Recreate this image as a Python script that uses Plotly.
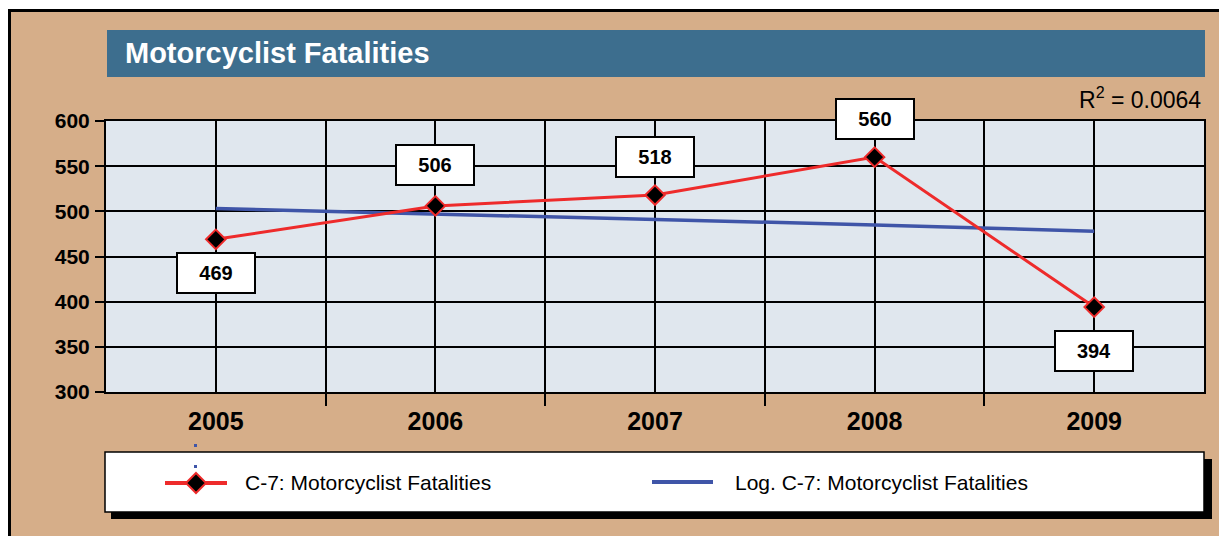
import plotly.graph_objects as go

# data
years = [2005, 2006, 2007, 2008, 2009]
fatalities = [469, 506, 518, 560, 394]
log_trend = [503, 497, 491, 485, 478]
r_squared = "0.0064"

# styling
W, H = 1219, 536
PLOT_L, PLOT_R, PLOT_T, PLOT_B = 106, 1204, 121, 392
TAN = "#D6AE89"
BAR_BLUE = "#3D6E8E"
PLOT_BG = "#E0E7EE"
RED = "#EE2B2B"
BLUE = "#3F55A8"
FONT = "Liberation Sans, Arial, sans-serif"
label_shift = [-34, 41, 38, 38, -44]  # label box offset (px) from each marker


def px_x(x):
    return (x - PLOT_L) / (PLOT_R - PLOT_L)


def px_y(y):
    return (PLOT_B - y) / (PLOT_B - PLOT_T)


fig = go.Figure()

fig.add_trace(go.Scatter(
    x=years, y=log_trend, mode="lines",
    name="Log. C-7: Motorcyclist Fatalities",
    line=dict(color=BLUE, width=3.5),
))
fig.add_trace(go.Scatter(
    x=years, y=fatalities, mode="lines+markers",
    name="C-7: Motorcyclist Fatalities",
    line=dict(color=RED, width=3),
    marker=dict(symbol="diamond", size=15, color="black", line=dict(color=RED, width=2)),
))

# value labels in white boxes
for yr, val, dy in zip(years, fatalities, label_shift):
    fig.add_annotation(
        x=yr, y=val, xref="x", yref="y", text=str(val), showarrow=False,
        yshift=dy, width=76, height=38, bgcolor="white",
        bordercolor="black", borderwidth=2, borderpad=0,
        font=dict(family=FONT, size=20, color="black", weight="bold"),
    )

fig.add_annotation(
    x=px_x(1203), y=px_y(98), xref="paper", yref="paper",
    text=f"R<sup>2</sup> = {r_squared}", showarrow=False,
    xanchor="right", yanchor="middle",
    font=dict(family=FONT, size=23, color="black"),
)

shapes = [
    # white margin outside the frame + frame lines
    dict(type="rect", xref="paper", yref="paper", x0=px_x(-5), x1=px_x(8), y0=px_y(H + 5), y1=px_y(-5),
         fillcolor="white", line=dict(width=0), layer="below"),
    dict(type="rect", xref="paper", yref="paper", x0=px_x(-5), x1=px_x(W + 5), y0=px_y(9), y1=px_y(-5),
         fillcolor="white", line=dict(width=0), layer="below"),
    dict(type="path", xref="paper", yref="paper",
         path=f"M {px_x(9.5)},{px_y(H + 5)} L {px_x(9.5)},{px_y(10.5)} L {px_x(W + 5)},{px_y(10.5)}",
         line=dict(color="black", width=3), layer="below"),
    # title bar
    dict(type="rect", xref="paper", yref="paper", x0=px_x(107), x1=px_x(1205), y0=px_y(77), y1=px_y(30),
         fillcolor=BAR_BLUE, line=dict(width=0), layer="below"),
    # legend box with shadow
    dict(type="rect", xref="paper", yref="paper", x0=px_x(111), x1=px_x(1212), y0=px_y(519), y1=px_y(459),
         fillcolor="black", line=dict(width=0), layer="above"),
    dict(type="rect", xref="paper", yref="paper", x0=px_x(105), x1=px_x(1204), y0=px_y(512), y1=px_y(452),
         fillcolor="white", line=dict(color="black", width=1.5), layer="above"),
    dict(type="line", xref="paper", yref="paper", x0=px_x(165), x1=px_x(227), y0=px_y(483), y1=px_y(483),
         line=dict(color=RED, width=4), layer="above"),
    dict(type="path", xref="paper", yref="paper",
         path=(f"M {px_x(196)},{px_y(473)} L {px_x(206)},{px_y(483)} "
               f"L {px_x(196)},{px_y(493)} L {px_x(186)},{px_y(483)} Z"),
         fillcolor="black", line=dict(color=RED, width=2), layer="above"),
    dict(type="line", xref="paper", yref="paper", x0=px_x(652), x1=px_x(713), y0=px_y(482), y1=px_y(482),
         line=dict(color=BLUE, width=4), layer="above"),
    # small stray marks under 2005
    dict(type="rect", xref="paper", yref="paper", x0=px_x(194), x1=px_x(197), y0=px_y(447), y1=px_y(444),
         fillcolor=BLUE, line=dict(width=0), layer="above"),
    dict(type="rect", xref="paper", yref="paper", x0=px_x(194), x1=px_x(197), y0=px_y(468), y1=px_y(465),
         fillcolor=BLUE, line=dict(width=0), layer="above"),
]
fig.update_layout(shapes=shapes)

fig.add_annotation(
    x=px_x(243), y=px_y(482), xref="paper", yref="paper",
    text="C-7: Motorcyclist Fatalities", showarrow=False,
    xanchor="left", yanchor="middle", font=dict(family=FONT, size=21, color="black"),
)
fig.add_annotation(
    x=px_x(733), y=px_y(482), xref="paper", yref="paper",
    text="Log. C-7: Motorcyclist Fatalities", showarrow=False,
    xanchor="left", yanchor="middle", font=dict(family=FONT, size=21, color="black"),
)

half_years = [y + 0.5 for y in years[:-1]]

fig.update_layout(
    width=W, height=H,
    margin=dict(l=PLOT_L, r=W - PLOT_R, t=PLOT_T, b=H - PLOT_B, autoexpand=False),
    paper_bgcolor=TAN,
    plot_bgcolor=PLOT_BG,
    showlegend=False,
    title=dict(
        text="Motorcyclist Fatalities", xref="container", yref="container",
        x=125 / W, y=1 - 53 / H, xanchor="left", yanchor="middle",
        font=dict(family=FONT, size=29, color="white", weight="bold"),
    ),
    xaxis=dict(
        range=[2004.5, 2009.5], tickvals=years, ticktext=[str(y) for y in years],
        showgrid=True, gridcolor="black", gridwidth=2,
        ticks="", ticklabelstandoff=6,
        showline=True, linecolor="black", linewidth=2, mirror=True,
        zeroline=False, fixedrange=True,
        tickfont=dict(family=FONT, size=25, color="black", weight="bold"),
        minor=dict(tickmode="array", tickvals=half_years, showgrid=True, gridcolor="black", gridwidth=2,
                   ticks="outside", ticklen=12, tickwidth=2, tickcolor="black"),
    ),
    yaxis=dict(
        range=[300, 600], dtick=50,
        showgrid=True, gridcolor="black", gridwidth=2,
        ticks="outside", ticklen=9, tickwidth=2, tickcolor="black", ticklabelstandoff=1,
        showline=True, linecolor="black", linewidth=2, mirror=True,
        zeroline=False, fixedrange=True,
        tickfont=dict(family=FONT, size=21, color="black", weight="bold"),
    ),
)

# drop the browser's default 8px body margin so the chart fills the window
fig.write_html("out.html", config={"displayModeBar": False},
               post_script="document.body.style.margin='0';")
